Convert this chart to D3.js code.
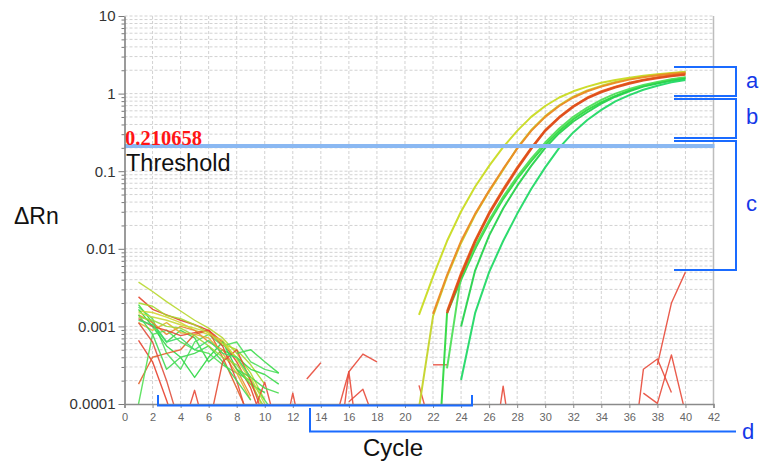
<!DOCTYPE html>
<html><head><meta charset="utf-8">
<script src="https://cdn.jsdelivr.net/npm/d3@7"></script>
<style>
html,body{margin:0;padding:0;background:#fff;}
svg{display:block;font-family:"Liberation Sans",Arial,sans-serif;}
</style></head>
<body>
<script>
// ---------- data ----------
const xTickValues = [0,2,4,6,8,10,12,14,16,18,20,22,24,26,28,30,32,34,36,38,40,42];
const yTickValues = [10,1,0.1,0.01,0.001,0.0001];
const yTickLabels = ["10","1","0.1","0.01","0.001","0.0001"];
const thresholdValue = 0.210658;

// amplification curves: first cycle + values per cycle
const ampStart = [21,21,22,23,22,23,24,24,23];
const ampValues = [
 [1.41e-3,4.37e-3,0.0126,0.0302,0.0631,0.117,0.204,0.331,0.501,0.692,0.891,1.07,1.23,1.38,1.50,1.60,1.70,1.78,1.84,1.91],
 [8.9e-5,1.35e-3,4.37e-3,0.0119,0.0272,0.055,0.1035,0.1995,0.339,0.513,0.708,0.912,1.096,1.259,1.413,1.549,1.660,1.738,1.820,1.884],
 [1.45e-3,4.57e-3,0.0126,0.0282,0.0562,0.107,0.195,0.331,0.501,0.692,0.891,1.072,1.230,1.380,1.514,1.622,1.718,1.799,1.862],
 [1.58e-3,4.90e-3,0.0129,0.0295,0.0589,0.112,0.200,0.339,0.501,0.692,0.891,1.072,1.230,1.380,1.514,1.622,1.718,1.799],
 [1.6e-6,1.48e-3,3.98e-3,0.0100,0.0219,0.0437,0.0794,0.135,0.219,0.331,0.468,0.617,0.776,0.933,1.096,1.259,1.380,1.514,1.603],
 [2.88e-4,4.47e-3,0.0107,0.0234,0.0468,0.0851,0.145,0.234,0.355,0.501,0.661,0.832,1.0,1.148,1.288,1.413,1.531,1.622],
 [1.0e-3,5.25e-3,0.0148,0.0331,0.0646,0.117,0.200,0.309,0.437,0.575,0.741,0.912,1.072,1.230,1.349,1.462,1.549],
 [2.04e-4,1.48e-3,5.01e-3,0.0126,0.0282,0.0589,0.112,0.200,0.316,0.457,0.617,0.794,0.955,1.122,1.259,1.396,1.496],
 [1.48e-3,4.57e-3,0.0123,0.0282,0.0562,0.107,0.195,0.331,0.490,0.676,0.871,1.047,1.202,1.349,1.479,1.585,1.679,1.758]
];

// background noise traces
const noiseStart = [1,1,1,1,1,1,1,1,1,1,1,1,1,1,1,1,4,6,9,8,8,1,1,
                    11,13,15,16,15,21,22,26,36,37,38];
const noiseValues = [
 [3.72e-3,2.82e-3,2.09e-3,1.58e-3,1.20e-3,9.5e-4,7.1e-4,4.5e-4,2.5e-4,1.12e-4],
 [2.40e-3,1.66e-3,1.41e-3,1.20e-3,1.05e-3,8.9e-4,6.3e-4,3.5e-4,1.6e-4,5.0e-5],
 [2.00e-3,1.82e-3,1.38e-3,1.26e-3,1.05e-3,8.3e-4,6.0e-4,5.0e-4,3.2e-4,1.8e-4],
 [1.91e-3,1.12e-3,6.3e-4,8.9e-4,7.1e-4,3.5e-4,5.0e-4,4.0e-4,2.8e-4,2.4e-4,1.8e-4],
 [1.78e-3,1.26e-3,4.5e-4,2.8e-4,6.3e-4,7.9e-4,5.6e-4,6.3e-4,3.5e-4,2.8e-4,2.5e-4],
 [1.58e-3,1.51e-3,1.32e-3,1.12e-3,8.9e-4,7.9e-4,6.6e-4,3.8e-4,2.0e-4,7.9e-5],
 [1.41e-3,1.12e-3,7.9e-4,1.00e-3,8.9e-4,6.3e-4,5.0e-4,2.8e-4,1.26e-4],
 [1.66e-3,1.00e-3,5.6e-4,4.0e-4,2.2e-4,4.0e-4,6.3e-4,2.8e-4,1.8e-4,1.4e-4],
 [6.6e-4,3.5e-4,1.12e-4,3.2e-5],
 [1.8e-4,4.0e-4,4.5e-4,5.0e-4,7.9e-4,8.9e-4,4.0e-4,1.6e-4,6.3e-5],
 [1.0e-4,7.9e-4,8.9e-4,6.3e-4,5.0e-4,4.5e-4,3.2e-4,2.5e-4,2.0e-4,1.12e-4,6.3e-5],
 [1.12e-3,8.9e-4,1.12e-3,8.3e-4,7.9e-4,7.1e-4,4.5e-4,2.5e-4,1.12e-4],
 [1.26e-3,1.00e-3,8.9e-4,7.6e-4,8.3e-4,8.9e-4,5.6e-4,2.0e-4,5.0e-5],
 [1.41e-3,7.9e-4,2.8e-4,4.0e-4,4.5e-4,5.6e-4,3.5e-4,2.0e-4,1.12e-4],
 [1.32e-3,1.20e-3,1.00e-3,9.5e-4,7.6e-4,5.6e-4,4.0e-4,3.2e-4,1.8e-4,8.9e-5],
 [1.12e-3,6.3e-4,2.0e-4,5.0e-5],
 [4.0e-5,1.5e-4,3.2e-5],
 [5.0e-5,3.5e-4,5.0e-4,2.0e-4,6.3e-5],
 [6.3e-5,1.9e-4,4.0e-5],
 [4.5e-4,5.0e-4,3.5e-4,2.5e-4],
 [2.8e-4,2.2e-4,1.6e-4,1.38e-4],
 [1.51e-3,1.32e-3,1.20e-3,1.05e-3,9.5e-4,8.3e-4,6.0e-4,4.0e-4,2.2e-4,1.0e-4],
 [1.2e-3,1.05e-3,6.3e-4,7.1e-4,5.0e-4,6.6e-4,4.5e-4,4.0e-4,2.2e-4],
 [2.0e-5,1.38e-4,2.0e-5],
 [2.1e-4,3.4e-4],
 [5.9e-5,2.6e-4,4.4e-4,3.5e-4],
 [1.07e-4,1.55e-4,5.0e-5],
 [1.0e-5,2.6e-4,1.0e-5],
 [1.74e-4,3.9e-5],
 [3.2e-4,3.2e-4],
 [1.0e-5,1.7e-4,1.0e-5],
 [1.0e-5,2.8e-4,3.8e-4,1.41e-4],
 [1.38e-4,1.02e-4,4.3e-4,7.6e-5],
 [3.2e-4,2.0e-3,5.0e-3]
];

// ---------- styles ----------
const ampColors = ["#c9db22","#c4d42a","#ec8a26","#ec6a22","#2fd940","#4fdf58","#27d24c","#22d966","#de4c1a"];
const ampWidths = [2,2,2,2,2,2,2,2,2.4];
const noiseColors = ["#b7d72e","#e5452d","#a6d92c","#3ad94a","#4fe05e","#d4d431","#e98a2e","#2fd845","#e8402e",
  "#e2602a","#52e055","#e2b232","#e64a36","#42d852","#9ad83a","#e0503e","#e84a3a","#e44c34","#e84a3a",
  "#3cdc4c","#48dc50","#c8d838","#3fdc6a",
  "#e84a3a","#e84a3a","#e84a3a","#e84a3a","#e84a3a","#e84a3a","#e84a3a","#e84a3a","#e84a3a","#e84a3a","#e84a3a"];

const W = 759, H = 462;
const svg = d3.select("body").append("svg").attr("width", W).attr("height", H);
svg.append("rect").attr("width", W).attr("height", H).attr("fill", "#fff");

const x = d3.scaleLinear().domain([0, 42]).range([124.5, 713.5]);
const y = d3.scaleLog().domain([1e-4, 10]).range([404, 16]);

// grid
const minorVals = [];
[-4,-3,-2,-1,0].forEach(e => { for (let m = 1; m <= 9; m++) minorVals.push(+(m * Math.pow(10, e)).toPrecision(3)); });
minorVals.push(10);

const grid = svg.append("g");
grid.selectAll("line.h").data(minorVals.filter(v => v > 1e-4)).join("line")
  .attr("x1", x(0)).attr("x2", x(42)).attr("y1", d => y(d)).attr("y2", d => y(d))
  .attr("stroke", "#d2d2d2").attr("stroke-width", 1).attr("stroke-dasharray", "3,2");
grid.selectAll("line.v").data(xTickValues.filter(v => v > 0 && v < 42)).join("line")
  .attr("x1", d => x(d)).attr("x2", d => x(d)).attr("y1", y(10)).attr("y2", y(1e-4))
  .attr("stroke", "#d2d2d2").attr("stroke-width", 1).attr("stroke-dasharray", "3,2");
// right border
svg.append("line").attr("x1", x(42)).attr("x2", x(42)).attr("y1", y(10)).attr("y2", y(1e-4))
  .attr("stroke", "#bdbdbd").attr("stroke-width", 1.5);

// clip
svg.append("clipPath").attr("id", "clip").append("rect")
  .attr("x", x(0)).attr("y", y(10)).attr("width", x(42) - x(0)).attr("height", y(1e-4) - y(10));

const line = d3.line().x(d => x(d[0])).y(d => y(d[1]));
const plot = svg.append("g").attr("clip-path", "url(#clip)");

noiseValues.forEach((vals, i) => {
  const pts = vals.map((v, j) => [noiseStart[i] + j, v]);
  plot.append("path").attr("d", line(pts)).attr("fill", "none")
    .attr("stroke", noiseColors[i]).attr("stroke-width", 1.4).attr("stroke-opacity", 0.9)
    .attr("stroke-linejoin", "round");
});
ampValues.forEach((vals, i) => {
  const pts = vals.map((v, j) => [ampStart[i] + j, v]);
  plot.append("path").attr("d", line(pts)).attr("fill", "none")
    .attr("stroke", ampColors[i]).attr("stroke-width", ampWidths[i]).attr("stroke-opacity", 0.95)
    .attr("stroke-linejoin", "round");
});

// threshold
svg.append("line").attr("x1", x(0)).attr("x2", x(42) + 1)
  .attr("y1", y(thresholdValue)).attr("y2", y(thresholdValue))
  .attr("stroke", "#8ab8f2").attr("stroke-width", 4);
svg.append("text").attr("x", 125).attr("y", y(thresholdValue) - 1.5)
  .attr("font-family", "'Liberation Serif','Times New Roman',serif").attr("font-weight", "bold")
  .attr("font-size", 20.5).attr("fill", "#ff1515").text(thresholdValue.toString());
svg.append("text").attr("x", 126).attr("y", 171)
  .attr("font-size", 23.5).attr("fill", "#111").text("Threshold");

// axes
const yAxis = d3.axisLeft(y).tickValues(minorVals).tickSizeOuter(0)
  .tickFormat(d => { const k = yTickValues.findIndex(t => Math.abs(t - d) / d < 1e-6); return k >= 0 ? yTickLabels[k] : ""; });
const gy = svg.append("g").attr("transform", `translate(${x(0)},0)`).call(yAxis);
gy.select(".domain").attr("stroke", "#7a7a7a").attr("stroke-width", 1.5);
gy.selectAll(".tick line").attr("stroke", "#7a7a7a")
  .attr("x2", d => yTickValues.some(t => Math.abs(t - d) / d < 1e-6) ? -6 : -3);
gy.selectAll(".tick text").attr("font-size", 15).attr("fill", "#333").attr("x", -9)
  .attr("font-family", "'Liberation Sans',Arial,sans-serif");

const xAxis = d3.axisBottom(x).tickValues(xTickValues).tickSizeOuter(0).tickSize(4).tickPadding(5);
const gx = svg.append("g").attr("transform", `translate(0,${y(1e-4)})`).call(xAxis);
gx.select(".domain").attr("stroke", "#8a8a8a").attr("stroke-width", 1.5);
gx.selectAll(".tick line").attr("stroke", "#8a8a8a");
gx.selectAll(".tick text").attr("font-size", 11).attr("fill", "#666")
  .attr("font-family", "'Liberation Sans',Arial,sans-serif");

// axis titles
svg.append("text").attr("x", 14).attr("y", 224).attr("font-size", 23).attr("fill", "#111").text("ΔRn");
svg.append("text").attr("x", 393).attr("y", 456).attr("text-anchor", "middle").attr("font-size", 24).attr("fill", "#111").text("Cycle");

// annotation brackets
const blue = "#1a6bff";
const ann = svg.append("g").attr("fill", "none").attr("stroke", blue).attr("stroke-width", 2);
[[67, 96], [99, 138], [141, 270]].forEach(([t, b]) => {
  ann.append("path").attr("d", `M674,${t}H736V${b}H674`);
});
ann.append("path").attr("d", "M158,395V405.5H472V395");
ann.append("path").attr("d", "M310,408V431.5H736");
const lab = svg.append("g").attr("fill", "#1438e8").attr("font-size", 22);
lab.append("text").attr("x", 746).attr("y", 88).text("a");
lab.append("text").attr("x", 746).attr("y", 124).text("b");
lab.append("text").attr("x", 746).attr("y", 211).text("c");
lab.append("text").attr("x", 742).attr("y", 439).text("d");
</script>
</body></html>
